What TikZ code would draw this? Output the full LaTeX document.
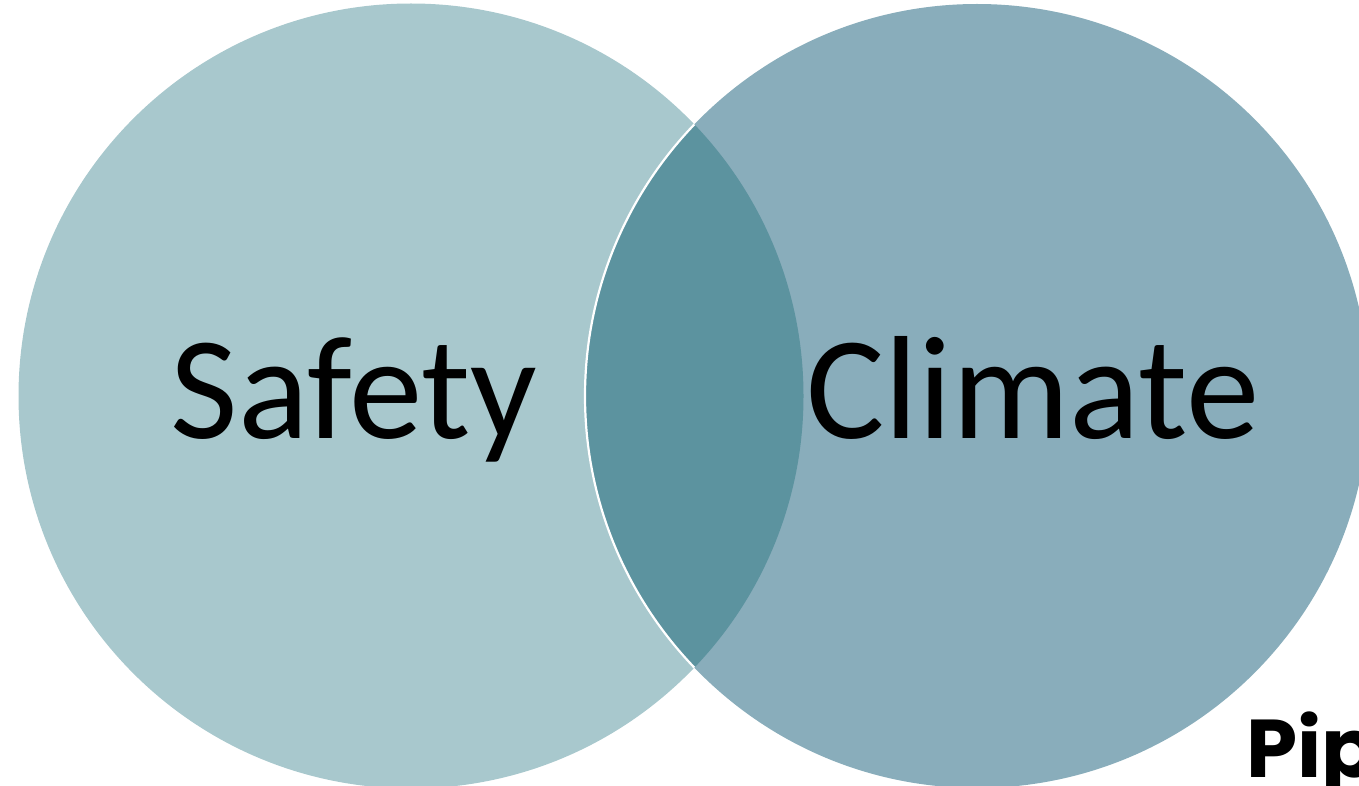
\documentclass[tikz,border=0pt]{standalone}
\usepackage{fontspec}
\setmainfont{Carlito}
\newfontfamily\pipfont{Poppins}
\definecolor{leftc}{HTML}{A8C8CD}
\definecolor{rightc}{HTML}{89ADBB}
\definecolor{midc}{HTML}{5C939F}
\begin{document}
\begin{tikzpicture}[x=1pt,y=-1pt,
  lbl/.style={font=\fontsize{147}{147}\selectfont, text=black, inner sep=0pt, anchor=base}]
\useasboundingbox (0,0) rectangle (1359,786);
\clip (0,0) rectangle (1359,786);
\coordinate (lc) at (411,396);
\coordinate (rc) at (977,396);
\fill[leftc] (lc) circle[radius=392.5];
\fill[rightc] (rc) circle[radius=392];
\begin{scope}
  \clip (lc) circle[radius=392.5];
  \fill[midc] (rc) circle[radius=392];
  \draw[white, line width=2.2pt] (rc) circle[radius=392];
\end{scope}
\node[lbl] (safety) at (354,438) {Safety};
\node[lbl] (climate) at (1033,438) {Climate};
\node[font=\pipfont\bfseries\fontsize{82}{82}\selectfont, inner sep=0pt, anchor=base west] (pip) at (1246,777) {Pip};
\end{tikzpicture}
\end{document}
